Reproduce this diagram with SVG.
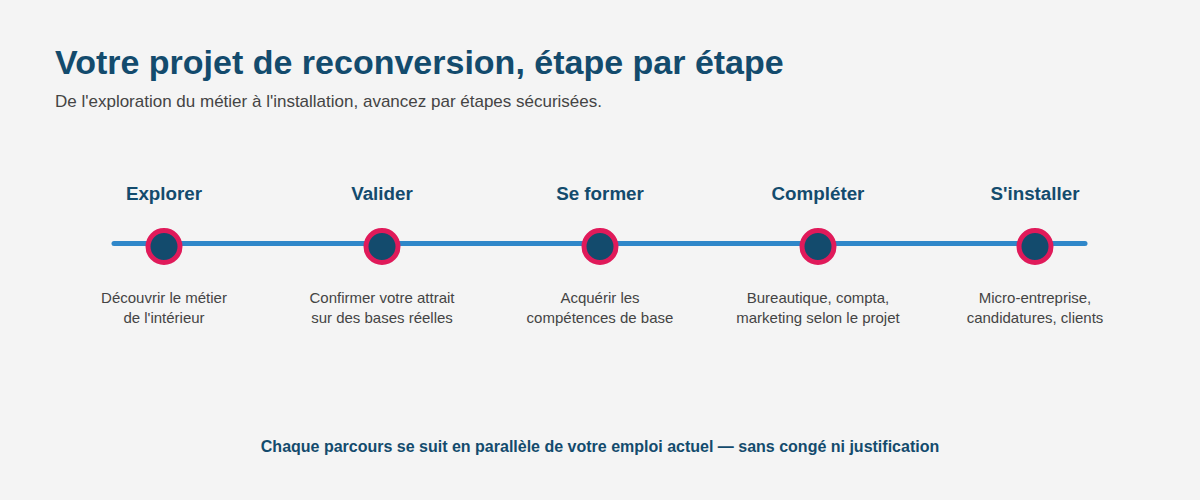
<svg xmlns="http://www.w3.org/2000/svg" width="1200" height="500" viewBox="0 0 1200 500">
<style>
text{font-family:"Liberation Sans",Arial,sans-serif}
.title{font-size:34px;font-weight:bold;fill:#134b6d}
.sub{font-size:17px;fill:#444}
.lbl{font-size:18.8px;font-weight:bold;fill:#134b6d;text-anchor:middle}
.desc{font-size:15px;fill:#444;text-anchor:middle}
.foot{font-size:16px;font-weight:bold;fill:#134b6d;text-anchor:middle}
.dot{fill:#134b6d;stroke:#e01a5a;stroke-width:5}
</style>
<rect width="1200" height="500" fill="#f4f4f4"/>
<text class="title" x="55" y="74">Votre projet de reconversion, étape par étape</text>
<text class="sub" x="55" y="107">De l'exploration du métier à l'installation, avancez par étapes sécurisées.</text>
<g id="connectors">
<line x1="114" y1="243.5" x2="1085" y2="243.5" stroke="#2f87c9" stroke-width="5" stroke-linecap="round"/>
</g>
<g id="step1"><text class="lbl" x="164" y="200">Explorer</text><circle class="dot" cx="164" cy="246.5" r="16"/><text class="desc" x="164" y="303">Découvrir le métier</text><text class="desc" x="164" y="323">de l'intérieur</text></g>
<g id="step2"><text class="lbl" x="382" y="200">Valider</text><circle class="dot" cx="382" cy="246.5" r="16"/><text class="desc" x="382" y="303">Confirmer votre attrait</text><text class="desc" x="382" y="323">sur des bases réelles</text></g>
<g id="step3"><text class="lbl" x="600" y="200">Se former</text><circle class="dot" cx="600" cy="246.5" r="16"/><text class="desc" x="600" y="303">Acquérir les</text><text class="desc" x="600" y="323">compétences de base</text></g>
<g id="step4"><text class="lbl" x="818" y="200">Compléter</text><circle class="dot" cx="818" cy="246.5" r="16"/><text class="desc" x="818" y="303">Bureautique, compta,</text><text class="desc" x="818" y="323">marketing selon le projet</text></g>
<g id="step5"><text class="lbl" x="1035" y="200">S'installer</text><circle class="dot" cx="1035" cy="246.5" r="16"/><text class="desc" x="1035" y="303">Micro-entreprise,</text><text class="desc" x="1035" y="323">candidatures, clients</text></g>
<text class="foot" x="600" y="452">Chaque parcours se suit en parallèle de votre emploi actuel — sans congé ni justification</text>
</svg>
